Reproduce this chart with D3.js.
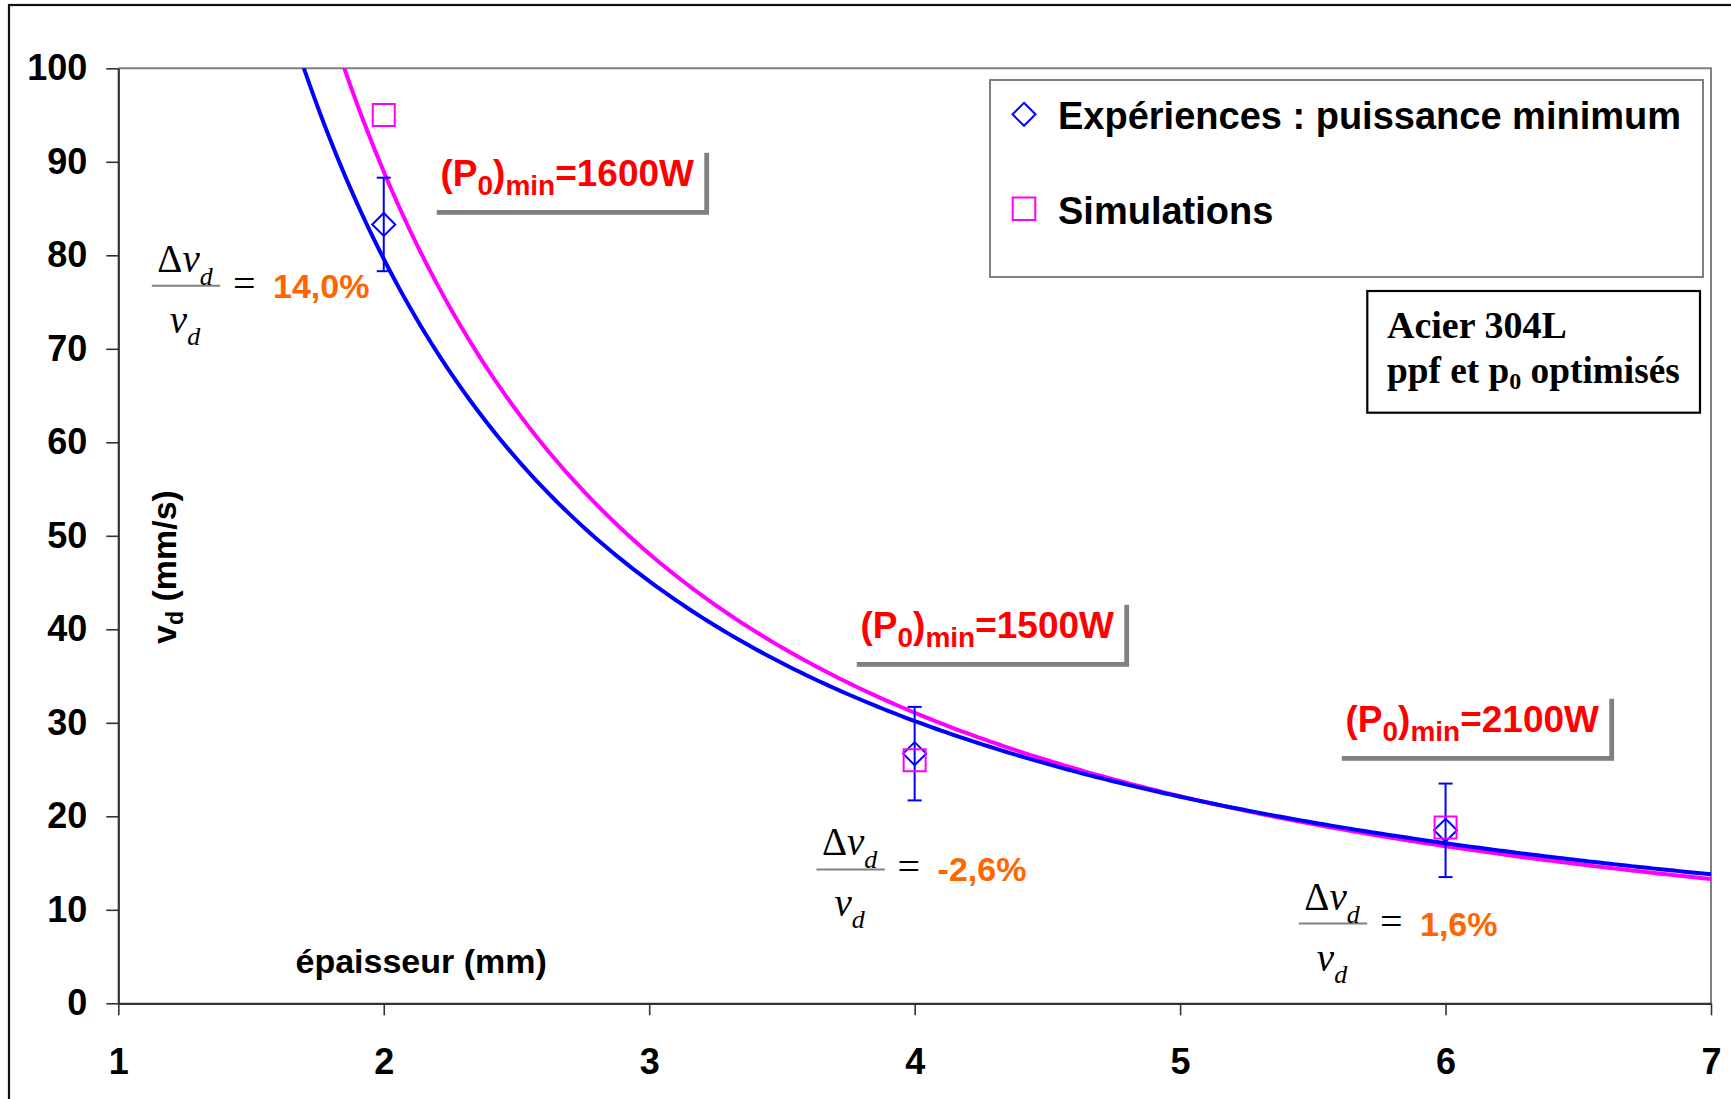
<!DOCTYPE html>
<html>
<head>
<meta charset="utf-8">
<script src="https://cdn.jsdelivr.net/npm/d3@7"></script>
<style>
  html, body { margin: 0; padding: 0; background: #fff; }
  svg { display: block; }
</style>
</head>
<body>
<svg id="chart" width="1731" height="1099"></svg>
<script>
// Plate thickness (mm) of each test
const thickness = [2, 4, 6];
// Experiments at minimum power: cutting speed v_d (mm/s) and error-bar half-width
const experiences = [83.3, 26.7, 18.5];
const expError = [5, 5, 5];
// Simulated cutting speed v_d (mm/s)
const simulations = [95.0, 26.0, 18.8];
// Minimum laser power at each thickness (W)
const powerMin = [1600, 1500, 2100];
// Axis ticks
const xTicks = [1, 2, 3, 4, 5, 6, 7];
const yTicks = [0, 10, 20, 30, 40, 50, 60, 70, 80, 90, 100];
const seriesNames = ["Expériences : puissance minimum", "Simulations"];

const W = 1731, H = 1099;
const plot = { left: 118.3, right: 1711, top: 68.3, bottom: 1003.3 };
const SANS = "'Liberation Sans', Arial, Helvetica, sans-serif";
const SERIF = "'Liberation Serif', 'Times New Roman', Times, serif";
const BLUE = "#0000ff", MAGENTA = "#ff00ff", RED = "#ff0000", ORANGE = "#ff6600";

const svg = d3.select("#chart");
const x = d3.scaleLinear().domain([1, 7]).range([plot.left, plot.right]);
const y = d3.scaleLinear().domain([0, 100]).range([plot.bottom, plot.top]);

// Outer frame (runs off the right and bottom edges)
svg.append("rect")
  .attr("x", 9).attr("y", 5).attr("width", W + 40).attr("height", H + 40)
  .attr("fill", "#fff").attr("stroke", "#111").attr("stroke-width", 2.2);

// Plot-area border on the top and right sides
svg.append("path")
  .attr("d", `M${plot.left},${plot.top}H${plot.right}V${plot.bottom}`)
  .attr("fill", "none").attr("stroke", "#808080").attr("stroke-width", 2);

// Y axis
const gy = svg.append("g")
  .attr("transform", `translate(${plot.left},0)`)
  .call(d3.axisLeft(y).tickValues(yTicks).tickFormat(d3.format("d"))
    .tickSize(12).tickSizeOuter(0).tickPadding(19));
// X axis
const gx = svg.append("g")
  .attr("transform", `translate(0,${plot.bottom})`)
  .call(d3.axisBottom(x).tickValues(xTicks).tickFormat(d3.format("d"))
    .tickSize(12).tickSizeOuter(0).tickPadding(33));

[gx, gy].forEach(g => {
  g.select(".domain").attr("stroke", "#333").attr("stroke-width", 2.2);
  g.selectAll(".tick line").attr("stroke", "#333").attr("stroke-width", 1.6);
  g.selectAll(".tick text")
    .attr("fill", "#000")
    .style("font-family", SANS).style("font-weight", "bold").style("font-size", "36px");
});

// Power-law trend (least squares in log-log space), as a spreadsheet trendline would
function powerFit(xs, ys) {
  const lx = xs.map(Math.log), ly = ys.map(Math.log);
  const mx = d3.mean(lx), my = d3.mean(ly);
  let sxy = 0, sxx = 0;
  lx.forEach((v, i) => { sxy += (v - mx) * (ly[i] - my); sxx += (v - mx) * (v - mx); });
  const b = sxy / sxx, a = Math.exp(my - b * mx);
  return t => a * Math.pow(t, b);
}
const expTrend = powerFit(thickness, experiences);
const simTrend = powerFit(thickness, simulations);

svg.append("clipPath").attr("id", "plotClip")
  .append("rect")
  .attr("x", plot.left).attr("y", plot.top)
  .attr("width", plot.right - plot.left).attr("height", plot.bottom - plot.top);

const samples = d3.range(1.4, 7.0001, 0.02);
const line = d3.line().x(d => x(d[0])).y(d => y(d[1]));
const curves = svg.append("g").attr("clip-path", "url(#plotClip)");
curves.append("path")
  .attr("d", line(samples.map(t => [t, simTrend(t)])))
  .attr("fill", "none").attr("stroke", MAGENTA).attr("stroke-width", 4);
curves.append("path")
  .attr("d", line(samples.map(t => [t, expTrend(t)])))
  .attr("fill", "none").attr("stroke", BLUE).attr("stroke-width", 4);

// Error bars on the experiments
const eb = svg.append("g").attr("stroke", BLUE).attr("stroke-width", 2).attr("fill", "none");
thickness.forEach((t, i) => {
  const cx = x(t), y1 = y(experiences[i] + expError[i]), y2 = y(experiences[i] - expError[i]);
  eb.append("line").attr("x1", cx).attr("x2", cx).attr("y1", y1).attr("y2", y2);
  eb.append("line").attr("x1", cx - 7).attr("x2", cx + 7).attr("y1", y1).attr("y2", y1);
  eb.append("line").attr("x1", cx - 7).attr("x2", cx + 7).attr("y1", y2).attr("y2", y2);
});

const diamond = (cx, cy, r) => `M${cx},${cy - r}L${cx + r},${cy}L${cx},${cy + r}L${cx - r},${cy}Z`;
const square = (cx, cy, r) => `M${cx - r},${cy - r}H${cx + r}V${cy + r}H${cx - r}Z`;

svg.append("g").selectAll("path").data(thickness).join("path")
  .attr("d", (t, i) => diamond(x(t), y(experiences[i]), 11.5))
  .attr("fill", "none").attr("stroke", BLUE).attr("stroke-width", 2);
svg.append("g").selectAll("path").data(thickness).join("path")
  .attr("d", (t, i) => square(x(t), y(simulations[i]), 11))
  .attr("fill", "none").attr("stroke", MAGENTA).attr("stroke-width", 2);

// Legend
const lg = svg.append("g");
lg.append("rect").attr("x", 990).attr("y", 80).attr("width", 713).attr("height", 197)
  .attr("fill", "#fff").attr("stroke", "#808080").attr("stroke-width", 2);
lg.append("path").attr("d", diamond(1024, 114.3, 11.5))
  .attr("fill", "none").attr("stroke", BLUE).attr("stroke-width", 2);
lg.append("path").attr("d", square(1024, 208.7, 11.3))
  .attr("fill", "none").attr("stroke", MAGENTA).attr("stroke-width", 2);
[[seriesNames[0], 129], [seriesNames[1], 224]].forEach(([txt, by]) => {
  lg.append("text").attr("x", 1058).attr("y", by).text(txt)
    .style("font-family", SANS).style("font-weight", "bold").style("font-size", "38px").attr("fill", "#000");
});

// Material box
const mb = svg.append("g");
mb.append("rect").attr("x", 1367.3).attr("y", 291).attr("width", 332.7).attr("height", 121.7)
  .attr("fill", "#fff").attr("stroke", "#000").attr("stroke-width", 2.2);
const mbText = (yy, fs) => mb.append("text").attr("x", 1387).attr("y", yy)
  .style("font-family", SERIF).style("font-weight", "bold").style("font-size", fs + "px").attr("fill", "#000");
mbText(337.5, 38).text("Acier 304L");
const l2 = mbText(383, 37.3);
l2.append("tspan").text("ppf et p");
l2.append("tspan").attr("dy", 6).style("font-size", "24px").text("0");
l2.append("tspan").attr("dy", -6).text(" optimisés");

// Minimum power annotation boxes (white box with offset grey shadow)
const noteBoxes = [{ left: 432, top: 148 }, { left: 852, top: 600 }, { left: 1337, top: 694 }];
noteBoxes.forEach((b, i) => {
  const g = svg.append("g");
  const bw = 272.3, bh = 62, off = 4.8;
  g.append("rect").attr("x", b.left + off).attr("y", b.top + off).attr("width", bw).attr("height", bh).attr("fill", "#808080");
  g.append("rect").attr("x", b.left).attr("y", b.top).attr("width", bw).attr("height", bh).attr("fill", "#fff");
  const t = g.append("text").attr("x", b.left + 8.5).attr("y", b.top + 38)
    .style("font-family", SANS).style("font-weight", "bold").style("font-size", "37px").attr("fill", RED);
  t.append("tspan").text("(P");
  t.append("tspan").attr("dy", 9).style("font-size", "28px").text("0");
  t.append("tspan").attr("dy", -9).text(")");
  t.append("tspan").attr("dy", 9).style("font-size", "28px").text("min");
  t.append("tspan").attr("dy", -9).text("=" + powerMin[i] + "W");
});

// Relative gap between simulation and experiment: Δv_d / v_d = ...
const fmtPct = v => d3.format(".1f")(v).replace("\u2212", "-").replace(".", ",") + "%";
const fracPos = [{ cx: 186, ly: 285.7 }, { cx: 850.6, ly: 869.4 }, { cx: 1333, ly: 923.5 }];
fracPos.forEach((p, i) => {
  const g = svg.append("g");
  g.append("line").attr("x1", p.cx - 34.2).attr("x2", p.cx + 34.2).attr("y1", p.ly).attr("y2", p.ly)
    .attr("stroke", "#808080").attr("stroke-width", 2);
  const num = g.append("text").attr("x", p.cx - 1).attr("y", p.ly - 14).attr("text-anchor", "middle")
    .style("font-family", SERIF).style("font-size", "39px").attr("fill", "#000");
  num.append("tspan").text("Δ");
  num.append("tspan").style("font-style", "italic").text("v");
  num.append("tspan").attr("dy", 13).style("font-style", "italic").style("font-size", "26px").text("d");
  const den = g.append("text").attr("x", p.cx - 1).attr("y", p.ly + 47).attr("text-anchor", "middle")
    .style("font-family", SERIF).style("font-size", "39px").attr("fill", "#000");
  den.append("tspan").style("font-style", "italic").text("v");
  den.append("tspan").attr("dy", 12).style("font-style", "italic").style("font-size", "26px").text("d");
  g.append("text").attr("x", p.cx + 47).attr("y", p.ly + 11).text("=")
    .style("font-family", SERIF).style("font-size", "40px").attr("fill", "#000");
  const rel = (simulations[i] - experiences[i]) / experiences[i] * 100;
  g.append("text").attr("x", p.cx + 87).attr("y", p.ly + 12).text(fmtPct(rel))
    .style("font-family", SANS).style("font-weight", "bold").style("font-size", "34px").attr("fill", ORANGE);
});

// Axis titles
const yt = svg.append("text").attr("transform", "translate(176,567) rotate(-90)").attr("text-anchor", "middle")
  .style("font-family", SANS).style("font-weight", "bold").style("font-size", "34px").attr("fill", "#000");
yt.append("tspan").text("v");
yt.append("tspan").attr("dy", 7).style("font-size", "23px").text("d");
yt.append("tspan").attr("dy", -7).text(" (mm/s)");

svg.append("text").attr("x", 295.5).attr("y", 973).text("épaisseur (mm)")
  .style("font-family", SANS).style("font-weight", "bold").style("font-size", "34px").attr("fill", "#000");
</script>
</body>
</html>
